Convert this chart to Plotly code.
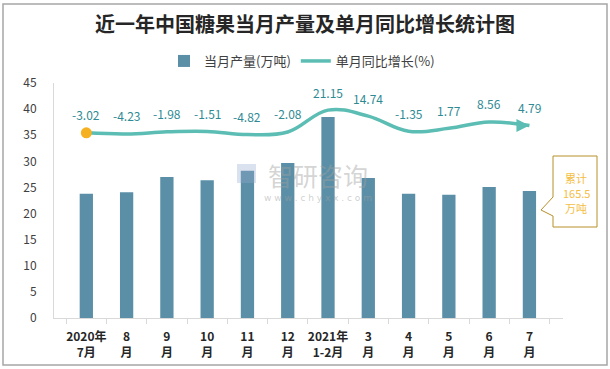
import plotly.graph_objects as go

categories = ["2020年<br>7月", "8<br>月", "9<br>月", "10<br>月", "11<br>月", "12<br>月",
              "2021年<br>1-2月", "3<br>月", "4<br>月", "5<br>月", "6<br>月", "7<br>月"]
production = [23.8, 24.1, 27.0, 26.4, 28.2, 29.7, 38.5, 26.8, 23.8, 23.6, 25.1, 24.3]
growth = [-3.02, -4.23, -1.98, -1.51, -4.82, -2.08, 21.15, 14.74, -1.35, 1.77, 8.56, 4.79]
growth_labels = ["-3.02", "-4.23", "-1.98", "-1.51", "-4.82", "-2.08", "21.15", "14.74", "-1.35", "1.77", "8.56", "4.79"]
y_ticks = [0, 5, 10, 15, 20, 25, 30, 35, 40, 45]
callout_lines = ["累计", "165.5", "万吨"]

BAR = "#5B8FA7"
LINE = "#5BBDB3"
LABEL = "#2F8A94"
FONT = "Noto Sans CJK SC"

fig = go.Figure()
fig.add_trace(go.Bar(x=categories, y=production, name="当月产量(万吨)",
                     marker=dict(color=BAR, line=dict(width=0))))
fig.add_trace(go.Scatter(x=categories, y=growth, name="单月同比增长(%)", yaxis="y2",
                         mode="lines", line=dict(color=LINE, width=3.5, shape="spline", smoothing=1.1)))
fig.add_trace(go.Scatter(x=categories[:1], y=growth[:1], yaxis="y2", mode="markers", showlegend=False,
                         marker=dict(color="#F5B11F", size=11)))
fig.add_trace(go.Scatter(x=categories[-1:], y=growth[-1:], yaxis="y2", mode="markers", showlegend=False,
                         marker=dict(color=LINE, size=13, symbol="arrow-right")))

annotations = []
for c, v, t in zip(categories, growth, growth_labels):
    annotations.append(dict(x=c, y=v, yref="y2", text=t, showarrow=False, yshift=18,
                            font=dict(color=LABEL, size=12, family=FONT)))


def px(x):
    return (x - 54) / 509


def py(y):
    return (318 - y) / 235


# watermark
annotations += [
    dict(x=px(318), y=py(175), xref="paper", yref="paper", text="智研咨询", showarrow=False,
         xanchor="center", font=dict(size=25, color="rgba(160,160,160,0.45)", family=FONT)),
    dict(x=px(318), y=py(198), xref="paper", yref="paper", text="w w w . c h y x x . c o m", showarrow=False,
         xanchor="center", font=dict(size=9, color="rgba(160,160,160,0.5)", family="DejaVu Sans")),
]

# callout text
for t, yy in zip(callout_lines, [178, 193, 208]):
    annotations.append(dict(x=px(576), y=py(yy), xref="paper", yref="paper", text=t, showarrow=False,
                            xanchor="center", yanchor="middle", borderpad=0,
                            font=dict(size=11, color="#F4BE45", family=FONT)))

callout_path = (f"M {px(553)} {py(156)} L {px(597)} {py(156)} L {px(597)} {py(227)} "
                f"L {px(553)} {py(227)} L {px(553)} {py(216)} L {px(541)} {py(210)} "
                f"L {px(553)} {py(197)} Z")

shapes = [
    dict(type="rect", xref="paper", yref="paper", x0=px(3), x1=px(607), y0=py(365), y1=py(4),
         line=dict(color="#A6A6A6", width=1.5), fillcolor="rgba(0,0,0,0)", layer="below"),
    dict(type="path", xref="paper", yref="paper", path=callout_path,
         line=dict(color="#B8902A", width=1), fillcolor="white"),
    # watermark logo
    dict(type="rect", xref="paper", yref="paper", x0=px(237), x1=px(256), y0=py(183), y1=py(164),
         line=dict(width=0), fillcolor="rgba(150,170,210,0.35)"),
]

fig.update_layout(
    width=610, height=369,
    margin=dict(l=54, r=47, t=83, b=51, autoexpand=False),
    paper_bgcolor="white", plot_bgcolor="white",
    font=dict(family=FONT, color="#404040", size=12),
    title=dict(text="<b>近一年中国糖果当月产量及单月同比增长统计图</b>", x=305 / 610, xanchor="center",
               y=1 - 25 / 369, yanchor="middle", font=dict(size=20, color="#262626", family=FONT)),
    legend=dict(orientation="h", x=px(164), y=py(61), xanchor="left", yanchor="middle",
                font=dict(size=13, color="#404040"), bgcolor="rgba(0,0,0,0)"),
    bargap=0.67,
    xaxis=dict(showline=True, linecolor="#D9D9D9", linewidth=1, ticks="outside", tickson="boundaries",
               tickcolor="#D9D9D9", ticklen=5, showgrid=False, tickangle=0, automargin=False,
               ticklabelstandoff=8,
               tickfont=dict(size=12, color="#262626", family=FONT, weight="bold")),
    yaxis=dict(range=[0, 45], tickvals=y_ticks, showline=True, linecolor="#D9D9D9", linewidth=1,
               showgrid=False, zeroline=False, ticks="", tickfont=dict(size=12, color="#404040"),
               ticklabelstandoff=14, automargin=False),
    yaxis2=dict(range=[-200, 50], overlaying="y", side="right", visible=False),
    annotations=annotations,
    shapes=shapes,
)

fig.write_html("out.html", config={"displayModeBar": False},
               post_script="document.body.style.margin='0';")
